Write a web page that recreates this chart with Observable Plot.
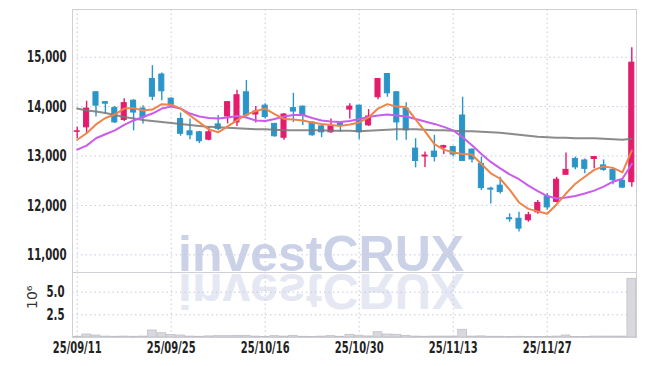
<!DOCTYPE html>
<html><head><meta charset="utf-8">
<script src="https://cdn.jsdelivr.net/npm/d3@7"></script>
<script src="https://cdn.jsdelivr.net/npm/@observablehq/plot@0.6"></script>
<style>
body{margin:0;background:#fff;}
#wrap{position:relative;width:645px;height:366px;overflow:hidden;background:#fff;}
#wm{position:absolute;left:0;top:0;}
#price,#vol{position:absolute;left:0;}
#price{top:0}
#vol{top:272px}
</style></head><body>
<div id="wrap">
<svg id="wm" width="645" height="366">
  <text x="178" y="271" font-family="'Liberation Sans',Arial,sans-serif" font-weight="bold" font-size="50" fill="#cbd1e7">investCRUX</text>
  <text x="178" y="271" transform="translate(0,545) scale(1,-1)" font-family="'Liberation Sans',Arial,sans-serif" font-weight="bold" font-size="50" fill="#e5e8f2">investCRUX</text>
</svg>
<div id="price"></div>
<div id="vol"></div>
</div>
<script>
const dates = ["25/09/11","25/09/12","25/09/15","25/09/16","25/09/17","25/09/18","25/09/19","25/09/22","25/09/23","25/09/24",
"25/09/25","25/09/26","25/09/29","25/09/30","25/10/01","25/10/02","25/10/10","25/10/13","25/10/14","25/10/15",
"25/10/16","25/10/17","25/10/20","25/10/21","25/10/22","25/10/23","25/10/24","25/10/27","25/10/28","25/10/29",
"25/10/30","25/10/31","25/11/03","25/11/04","25/11/05","25/11/06","25/11/07","25/11/10","25/11/11","25/11/12",
"25/11/13","25/11/14","25/11/17","25/11/18","25/11/19","25/11/20","25/11/21","25/11/24","25/11/25","25/11/26",
"25/11/27","25/11/28","25/12/01","25/12/02","25/12/03","25/12/04","25/12/05","25/12/08","25/12/09","25/12/10"];
const open = [13490,13580,14290,14090,13970,13730,14120,13960,14560,14650,14160,13750,13500,13480,13330,13640,13800,13680,14290,13840,14020,13650,13370,13970,14000,13680,13600,13480,13660,13940,14020,13620,14190,14660,14290,13960,13150,12990,13090,13170,13180,13820,13130,12840,12340,12400,11740,11730,11700,11860,12180,12070,12620,12940,12910,12940,12810,12720,12500,12470];
const high = [13580,14110,14300,14100,14000,14160,14140,14020,14830,14680,14180,13870,13750,13500,13580,13820,14100,14330,14530,14000,14060,13660,13860,14270,14010,13690,13610,13750,13680,14060,14030,13940,14570,14670,14300,14080,13350,13080,13420,13220,13200,14190,13140,12980,12370,12570,11830,11860,11860,12100,12240,12570,13060,12980,12940,12990,12920,12730,12520,15190];
const low = [13350,13450,13790,13850,13660,13700,13510,13650,14120,14120,13990,13400,13330,13250,13310,13510,13650,13600,13790,13670,13750,13380,13320,13680,13620,13400,13370,13460,13480,13750,13330,13600,14140,14190,13310,13320,12760,12770,12880,13030,12980,12890,12860,12300,12030,12230,11660,11460,11660,11820,11900,12050,12610,12720,12640,12740,12690,12420,12340,12370];
const close = [13500,13960,14020,14060,13680,14070,13880,13780,14200,14310,14020,13450,13420,13300,13480,13550,14090,14230,13820,13900,13790,13400,13840,13900,13820,13420,13480,13600,13610,14000,13480,13800,14560,14270,13680,13520,12900,13010,12980,13200,13030,12900,12930,12350,12320,12270,11720,11530,11800,12050,11960,12520,12720,12770,12740,12980,12720,12510,12360,14890];
const volume = [0.08,0.33,0.22,0.1,0.08,0.1,0.08,0.1,0.77,0.47,0.28,0.22,0.1,0.08,0.12,0.15,0.15,0.18,0.18,0.1,0.05,0.15,0.1,0.18,0.08,0.06,0.1,0.15,0.08,0.3,0.2,0.12,0.58,0.33,0.3,0.18,0.1,0.08,0.1,0.1,0.1,0.85,0.1,0.12,0.08,0.08,0.05,0.08,0.05,0.05,0.05,0.1,0.22,0.06,0.06,0.1,0.1,0.1,0.1,6.47];
const ma5 = [13330,13460,13640,13770,13840,13960,13970,13920,13940,14050,14040,13960,13820,13680,13540,13480,13600,13720,13840,13910,13960,13850,13750,13740,13720,13680,13650,13630,13610,13640,13680,13780,13960,14050,14000,13990,13740,13500,13240,13130,13070,13040,13030,12840,12650,12540,12320,12060,11930,11880,11830,12020,12240,12440,12580,12720,12790,12760,12670,13110];
const ma20 = [13130,13210,13360,13440,13520,13630,13720,13790,13860,13960,14000,13960,13860,13800,13770,13760,13780,13810,13780,13720,13710,13750,13800,13830,13830,13770,13720,13700,13690,13710,13750,13790,13820,13840,13820,13800,13750,13700,13650,13590,13520,13380,13220,13040,12880,12750,12630,12530,12400,12290,12190,12140,12160,12190,12240,12300,12380,12480,12540,12840];
const ma60 = [13960,13920,13900,13870,13830,13790,13760,13730,13710,13690,13670,13650,13630,13610,13590,13580,13570,13560,13550,13540,13540,13530,13520,13520,13520,13520,13520,13510,13510,13510,13500,13510,13520,13530,13540,13540,13540,13530,13520,13520,13510,13500,13500,13490,13480,13470,13450,13430,13410,13390,13380,13370,13370,13360,13360,13360,13350,13340,13330,13350];
const priceTicks = [11000,12000,13000,14000,15000];
const volTicks = [2.5,5.0];
const dateTickIdx = [0,10,20,30,40,50];
const volLabel = "10⁶";

const UP = "#e31c6c", DOWN = "#2b95c9";
const GRID = "#c6c9de", FRAME = "#cfcfd5";
const FONT = "'DejaVu Sans Condensed','DejaVu Sans',sans-serif";
const rows = dates.map((d,i)=>({i, date:d, o:open[i], h:high[i], l:low[i], c:close[i], v:volume[i],
  col: close[i] >= open[i] ? UP : DOWN, m5: ma5[i], m20: ma20[i], m60: ma60[i]}));
const baseStyle = {background:"transparent", fontFamily:FONT, fontSize:"16px", fontWeight:"bold", color:"#222", overflow:"visible"};

function squeeze(svg, axis, f){
  d3.select(svg).selectAll(`g[aria-label^="${axis}-axis"] text`).each(function(){
    const L = this.getComputedTextLength();
    this.setAttribute("textLength", (L*f).toFixed(1));
    this.setAttribute("lengthAdjust", "spacingAndGlyphs");
  });
}

const price = Plot.plot({
  width:645, height:272, marginTop:9, marginBottom:0, marginLeft:72, marginRight:9,
  style: baseStyle,
  color:{type:"identity"},
  x:{type:"linear", domain:[-0.5,59.5], axis:null},
  y:{domain:[10642,15966], ticks:priceTicks, tickFormat:d3.format(","), tickSize:0, tickPadding:6, label:null},
  marks:[
    Plot.ruleY(priceTicks,{stroke:GRID, strokeDasharray:"1.5,3"}),
    Plot.ruleX(dateTickIdx,{stroke:GRID, strokeDasharray:"1.5,3"}),
    Plot.frame({stroke:FRAME}),
    Plot.ruleX(rows,{x:"i", y1:"l", y2:"h", stroke:"col", strokeWidth:1.4}),
    Plot.rect(rows,{x1:d=>d.i-0.27, x2:d=>d.i+0.27, y1:"o", y2:"c", fill:"col", stroke:"col", strokeWidth:1}),
    Plot.line(rows,{x:"i", y:"m60", stroke:"#777", strokeWidth:2, strokeOpacity:0.85}),
    Plot.line(rows,{x:"i", y:"m20", stroke:"#c95cec", strokeWidth:2}),
    Plot.line(rows,{x:"i", y:"m5", stroke:"#ef8449", strokeWidth:2})
  ]
});
document.getElementById("price").appendChild(price);
squeeze(price, "y", 0.71);

const vol = Plot.plot({
  width:645, height:94, marginTop:0, marginBottom:29, marginLeft:72, marginRight:9,
  style: baseStyle,
  x:{type:"linear", domain:[-0.5,59.5], ticks:dateTickIdx, tickFormat:i=>dates[i], tickSize:0, tickPadding:4, label:null},
  y:{domain:[0,7.17], ticks:volTicks, tickFormat:d3.format(".1f"), tickSize:0, tickPadding:8, label:null},
  marks:[
    Plot.ruleY(volTicks,{stroke:GRID, strokeDasharray:"1.5,3"}),
    Plot.ruleX(dateTickIdx,{stroke:GRID, strokeDasharray:"1.5,3"}),
    Plot.rect(rows,{x1:d=>d.i-0.46, x2:d=>d.i+0.46, y1:0, y2:"v", fill:"#d8d8de", stroke:"#bfbfc6", strokeWidth:0.8}),
    Plot.frame({stroke:FRAME}),
    Plot.text([volLabel],{frameAnchor:"left", dx:-40, dy:4, rotate:-90, fontWeight:"normal", fontSize:14, fill:"#333", fontFamily:"'DejaVu Sans',sans-serif"})
  ]
});
document.getElementById("vol").appendChild(vol);
squeeze(vol, "y", 0.71);
squeeze(vol, "x", 0.69);
</script>
</body></html>
